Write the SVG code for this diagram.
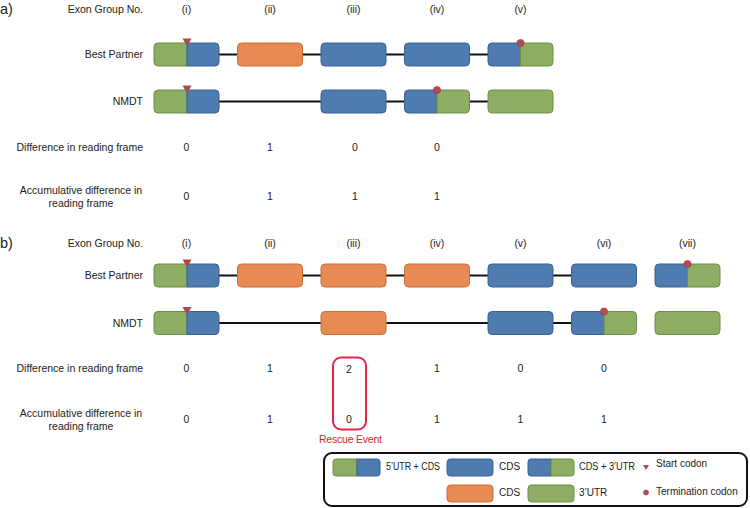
<svg xmlns="http://www.w3.org/2000/svg" xmlns:xlink="http://www.w3.org/1999/xlink" width="750" height="508" viewBox="0 0 750 508">
<style>
text{font-family:"Liberation Sans",Arial,sans-serif;font-size:10.5px;fill:#222}
.lab{text-anchor:end}
.mid{text-anchor:middle}
.big{font-size:14.5px}
.leg{font-size:10px}
.red{fill:#d9262e}
.g{fill:#8dad63;stroke:#6f8c4b;stroke-width:1}
.b{fill:#4e7cb1;stroke:#3b6191;stroke-width:1}
.o{fill:#e88a53;stroke:#c86f3c;stroke-width:1}
.conn line{stroke:#111;stroke-width:2}
.start{fill:#a84c50}
.term{fill:#b24c52;stroke:#8e3a3e;stroke-width:0.6}
</style>
<defs>
<rect id="eb" class="b" x="0" y="0" width="65" height="23" rx="4"/>
<rect id="eo" class="o" x="0" y="0" width="65" height="23" rx="4"/>
<rect id="eg" class="g" x="0" y="0" width="65" height="23" rx="4"/>
<g id="egb">
<path class="g" d="M33,0 H4 Q0,0 0,4 V19 Q0,23 4,23 H33 Z"/>
<path class="b" d="M33,0 H61 Q65,0 65,4 V19 Q65,23 61,23 H33 Z"/>
</g>
<g id="ebg">
<path class="b" d="M32.5,0 H4 Q0,0 0,4 V19 Q0,23 4,23 H32.5 Z"/>
<path class="g" d="M32.5,0 H61 Q65,0 65,4 V19 Q65,23 61,23 H32.5 Z"/>
</g>
<polygon id="tri" class="start" points="-4.5,-4.5 4.5,-4.5 0,3.5"/>
<circle id="dot" class="term" r="3.6"/>
</defs>

<!-- ===== Part a ===== -->
<g id="a-labels">
<text class="big" x="0" y="14">a)</text>
<text class="lab" x="143" y="13">Exon Group No.</text>
<text class="mid" x="186.5" y="13">(i)</text>
<text class="mid" x="270" y="13">(ii)</text>
<text class="mid" x="353.5" y="13">(iii)</text>
<text class="mid" x="437" y="13">(iv)</text>
<text class="mid" x="520.5" y="13">(v)</text>
<text class="lab" x="143" y="58">Best Partner</text>
<text class="lab" x="143" y="105">NMDT</text>
<text class="lab" x="143" y="151">Difference in reading frame</text>
<text class="mid" x="81" y="194">Accumulative difference in</text>
<text class="mid" x="81" y="207">reading frame</text>
</g>
<g id="a-values">
<text class="mid" x="186.5" y="151">0</text>
<text class="mid" x="270" y="151">1</text>
<text class="mid" x="355" y="151">0</text>
<text class="mid" x="437" y="151">0</text>
<text class="mid" x="186.5" y="200">0</text>
<text class="mid" x="270" y="200">1</text>
<text class="mid" x="355" y="200">1</text>
<text class="mid" x="437" y="200">1</text>
</g>
<g id="a-connectors" class="conn">
<line x1="219" y1="54.5" x2="237.5" y2="54.5"/>
<line x1="302.5" y1="54.5" x2="321" y2="54.5"/>
<line x1="386" y1="54.5" x2="404.5" y2="54.5"/>
<line x1="469.5" y1="54.5" x2="488" y2="54.5"/>
<line x1="219" y1="101.5" x2="321" y2="101.5"/>
<line x1="386" y1="101.5" x2="404.5" y2="101.5"/>
<line x1="469.5" y1="101.5" x2="488" y2="101.5"/>
</g>
<g id="a-bp-i"><use xlink:href="#egb" x="154" y="43"/><use xlink:href="#tri" x="187" y="43"/></g>
<g id="a-bp-ii"><use xlink:href="#eo" x="237.5" y="43"/></g>
<g id="a-bp-iii"><use xlink:href="#eb" x="321" y="43"/></g>
<g id="a-bp-iv"><use xlink:href="#eb" x="404.5" y="43"/></g>
<g id="a-bp-v"><use xlink:href="#ebg" x="488" y="43"/><use xlink:href="#dot" x="520.5" y="43"/></g>
<g id="a-nm-i"><use xlink:href="#egb" x="154" y="90"/><use xlink:href="#tri" x="187" y="90"/></g>
<g id="a-nm-iii"><use xlink:href="#eb" x="321" y="90"/></g>
<g id="a-nm-iv"><use xlink:href="#ebg" x="404.5" y="90"/><use xlink:href="#dot" x="437" y="90"/></g>
<g id="a-nm-v"><use xlink:href="#eg" x="488" y="90"/></g>

<!-- ===== Part b ===== -->
<g id="b-labels">
<text class="big" x="0" y="248">b)</text>
<text class="lab" x="143" y="247">Exon Group No.</text>
<text class="mid" x="186.5" y="247">(i)</text>
<text class="mid" x="270" y="247">(ii)</text>
<text class="mid" x="353.5" y="247">(iii)</text>
<text class="mid" x="437" y="247">(iv)</text>
<text class="mid" x="520.5" y="247">(v)</text>
<text class="mid" x="604" y="247">(vi)</text>
<text class="mid" x="687.5" y="247">(vii)</text>
<text class="lab" x="143" y="279">Best Partner</text>
<text class="lab" x="143" y="327">NMDT</text>
<text class="lab" x="143" y="372">Difference in reading frame</text>
<text class="mid" x="81" y="417">Accumulative difference in</text>
<text class="mid" x="81" y="430">reading frame</text>
</g>
<g id="b-values">
<text class="mid" x="186.5" y="372">0</text>
<text class="mid" x="270" y="372">1</text>
<text class="mid" x="349" y="373">2</text>
<text class="mid" x="437" y="372">1</text>
<text class="mid" x="520.5" y="372">0</text>
<text class="mid" x="604" y="372">0</text>
<text class="mid" x="186.5" y="423">0</text>
<text class="mid" x="270" y="423">1</text>
<text class="mid" x="349" y="423">0</text>
<text class="mid" x="437" y="423">1</text>
<text class="mid" x="520.5" y="423">1</text>
<text class="mid" x="604" y="423">1</text>
</g>
<g id="rescue">
<rect x="333" y="357.5" width="33" height="72" rx="8" fill="none" stroke="#e0284a" stroke-width="2"/>
<text class="red" x="319" y="443" textLength="63" lengthAdjust="spacing">Rescue Event</text>
</g>
<g id="b-connectors" class="conn">
<line x1="219" y1="275.5" x2="237.5" y2="275.5"/>
<line x1="302.5" y1="275.5" x2="321" y2="275.5"/>
<line x1="386" y1="275.5" x2="404.5" y2="275.5"/>
<line x1="469.5" y1="275.5" x2="488" y2="275.5"/>
<line x1="553" y1="275.5" x2="571.5" y2="275.5"/>
<line x1="219" y1="323" x2="321" y2="323"/>
<line x1="386" y1="323" x2="488" y2="323"/>
<line x1="553" y1="323" x2="571.5" y2="323"/>
</g>
<g id="b-bp-i"><use xlink:href="#egb" x="154" y="264"/><use xlink:href="#tri" x="187" y="264"/></g>
<g id="b-bp-ii"><use xlink:href="#eo" x="237.5" y="264"/></g>
<g id="b-bp-iii"><use xlink:href="#eo" x="321" y="264"/></g>
<g id="b-bp-iv"><use xlink:href="#eo" x="404.5" y="264"/></g>
<g id="b-bp-v"><use xlink:href="#eb" x="488" y="264"/></g>
<g id="b-bp-vi"><use xlink:href="#eb" x="571.5" y="264"/></g>
<g id="b-bp-vii"><use xlink:href="#ebg" x="655" y="264"/><use xlink:href="#dot" x="687.5" y="264"/></g>
<g id="b-nm-i"><use xlink:href="#egb" x="154" y="311.5"/><use xlink:href="#tri" x="187" y="311.5"/></g>
<g id="b-nm-iii"><use xlink:href="#eo" x="321" y="311.5"/></g>
<g id="b-nm-v"><use xlink:href="#eb" x="488" y="311.5"/></g>
<g id="b-nm-vi"><use xlink:href="#ebg" x="571.5" y="311.5"/><use xlink:href="#dot" x="604" y="311.5"/></g>
<g id="b-nm-vii"><use xlink:href="#eg" x="655" y="311.5"/></g>

<!-- ===== Legend ===== -->
<g id="legend">
<rect x="324" y="453" width="423" height="53" rx="8" fill="#fff" stroke="#111" stroke-width="2"/>
<path class="g" d="M357,459 H336 Q333,459 333,462 V473 Q333,476 336,476 H357 Z"/>
<path class="b" d="M357,459 H377 Q380,459 380,462 V473 Q380,476 377,476 H357 Z"/>
<text class="leg" x="386" y="470" textLength="54" lengthAdjust="spacingAndGlyphs">5’UTR + CDS</text>
<rect class="b" x="447" y="459" width="46" height="17" rx="3.5"/>
<text class="leg" x="499" y="470">CDS</text>
<path class="b" d="M551,459 H531 Q528,459 528,462 V473 Q528,476 531,476 H551 Z"/>
<path class="g" d="M551,459 H571 Q574,459 574,462 V473 Q574,476 571,476 H551 Z"/>
<text class="leg" x="579" y="470" textLength="56" lengthAdjust="spacingAndGlyphs">CDS + 3’UTR</text>
<polygon class="start" points="643,465 649,465 646,470"/>
<text class="leg" x="656" y="467">Start codon</text>
<rect class="o" x="447" y="485" width="46" height="17" rx="3.5"/>
<text class="leg" x="499" y="496">CDS</text>
<rect class="g" x="528" y="485" width="46" height="17" rx="3.5"/>
<text class="leg" x="579" y="496">3’UTR</text>
<circle class="term" cx="646" cy="492.5" r="2.5"/>
<text class="leg" x="656" y="495">Termination codon</text>
</g>
</svg>
